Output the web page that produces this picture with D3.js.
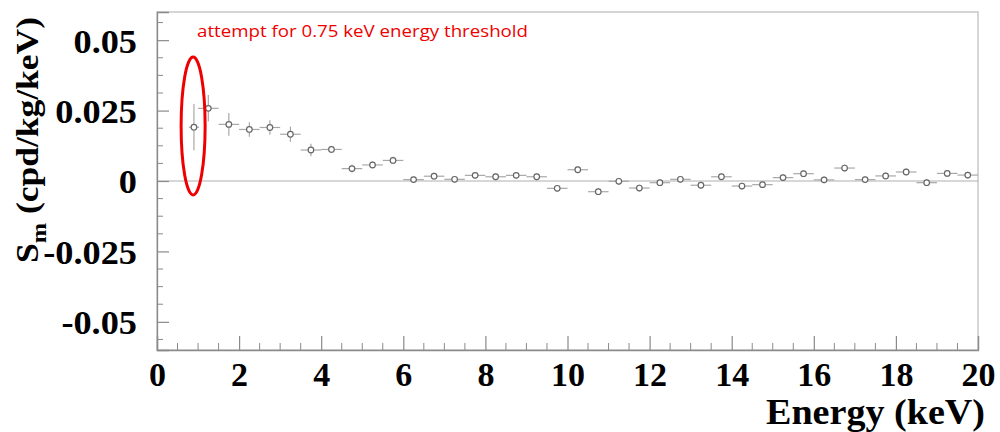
<!DOCTYPE html>
<html>
<head>
<meta charset="utf-8">
<script src="https://cdn.jsdelivr.net/npm/d3@7"></script>
<style>
  body { margin: 0; background: #fff; }
  svg { display: block; }
</style>
</head>
<body>
<svg id="chart" width="1000" height="432"></svg>
<script>
// data
var energy = [0.9, 1.25, 1.75, 2.25, 2.75, 3.25, 3.75, 4.25, 4.75, 5.25, 5.75,
    6.25, 6.75, 7.25, 7.75, 8.25, 8.75, 9.25, 9.75, 10.25, 10.75,
    11.25, 11.75, 12.25, 12.75, 13.25, 13.75, 14.25, 14.75, 15.25, 15.75,
    16.25, 16.75, 17.25, 17.75, 18.25, 18.75, 19.25, 19.75];
var binHalf = [0.125, 0.25, 0.25, 0.25, 0.25, 0.25, 0.25, 0.25, 0.25, 0.25, 0.25,
    0.25, 0.25, 0.25, 0.25, 0.25, 0.25, 0.25, 0.25, 0.25, 0.25,
    0.25, 0.25, 0.25, 0.25, 0.25, 0.25, 0.25, 0.25, 0.25, 0.25,
    0.25, 0.25, 0.25, 0.25, 0.25, 0.25, 0.25, 0.25];
var sm = [0.0191, 0.0258, 0.0201, 0.0183, 0.0190, 0.0166, 0.0110, 0.0112, 0.0044, 0.0057, 0.0073,
    0.0005, 0.0017, 0.0006, 0.0020, 0.0015, 0.0020, 0.0015, -0.0026, 0.0040, -0.0038,
    -0.0001, -0.0025, -0.0006, 0.0006, -0.0015, 0.0015, -0.0018, -0.0013, 0.0012, 0.0026,
    0.0004, 0.0046, 0.0005, 0.0018, 0.0032, -0.0006, 0.0027, 0.0021];
var smErr = [0.0082, 0.0047, 0.0040, 0.0026, 0.0026, 0.0027, 0.0022, 0.0013, 0.0014, 0.0013, 0.0013,
    0.0012, 0.0012, 0.0012, 0.0012, 0.0012, 0.0012, 0.0012, 0.0012, 0.0012, 0.0012,
    0.0012, 0.0012, 0.0012, 0.0012, 0.0012, 0.0012, 0.0012, 0.0012, 0.0012, 0.0012,
    0.0012, 0.0012, 0.0012, 0.0012, 0.0012, 0.0012, 0.0012, 0.0012];

var xTicks = [0, 2, 4, 6, 8, 10, 12, 14, 16, 18, 20];
var xMinor = [0.5, 1, 1.5, 2.5, 3, 3.5, 4.5, 5, 5.5, 6.5, 7, 7.5, 8.5, 9, 9.5,
    10.5, 11, 11.5, 12.5, 13, 13.5, 14.5, 15, 15.5, 16.5, 17, 17.5, 18.5, 19, 19.5];
var yTicks = [-0.05, -0.025, 0, 0.025, 0.05];
var yTickLabels = ["-0.05", "-0.025", "0", "0.025", "0.05"];
var yMinor = [-0.05625, -0.04375, -0.0375, -0.03125, -0.01875, -0.0125, -0.00625,
    0.00625, 0.0125, 0.01875, 0.03125, 0.0375, 0.04375, 0.05625];

var points = energy.map(function (e, i) {
    return { x: e, dx: binHalf[i], y: sm[i], dy: smErr[i] };
});

// MAIN
var plotLeft = 157, plotRight = 978, plotTop = 12, plotBottom = 350;
var svg = d3.select("#chart");

var x = d3.scaleLinear().domain([0, 20]).range([plotLeft, plotRight]);
var y = d3.scaleLinear().domain([-0.06, 0.06]).range([plotBottom, plotTop]);

var serif = "'Liberation Serif', 'Times New Roman', serif";

// frame
svg.append("rect")
    .attr("x", plotLeft).attr("y", plotTop)
    .attr("width", plotRight - plotLeft).attr("height", plotBottom - plotTop)
    .attr("fill", "none")
    .attr("stroke", "#c8c8c8")
    .attr("stroke-width", 1.5);

// zero line
svg.append("line")
    .attr("x1", plotLeft).attr("x2", plotRight)
    .attr("y1", y(0)).attr("y2", y(0))
    .attr("stroke", "#b0b0b0")
    .attr("stroke-width", 1.2);

// y axis, ticks inside the frame
var yAxis = svg.append("g")
    .attr("transform", "translate(" + plotLeft + ",0)")
    .call(d3.axisLeft(y).tickValues(yTicks).tickSize(-12).tickPadding(20)
        .tickFormat(function (d, i) { return yTickLabels[i]; }));
yAxis.select(".domain").attr("stroke", "#8a8a8a").attr("stroke-width", 1.3);
yAxis.selectAll(".tick line").attr("stroke", "#8a8a8a").attr("stroke-width", 1.2);
yAxis.selectAll(".tick text")
    .attr("font-family", serif).attr("font-weight", "bold")
    .attr("font-size", 33).attr("fill", "#000")
    .attr("dy", "0.36em")
    .attr("lengthAdjust", "spacingAndGlyphs")
    .attr("textLength", function () { return this.getComputedTextLength() * 1.1; });

svg.append("g").selectAll("line")
    .data(yMinor).enter().append("line")
    .attr("x1", plotLeft).attr("x2", plotLeft + 6)
    .attr("y1", function (d) { return y(d); })
    .attr("y2", function (d) { return y(d); })
    .attr("stroke", "#8a8a8a").attr("stroke-width", 1);

// x axis
var xAxis = svg.append("g")
    .attr("transform", "translate(0," + plotBottom + ")")
    .call(d3.axisBottom(x).tickValues(xTicks).tickSize(-14).tickPadding(12)
        .tickFormat(d3.format("d")));
xAxis.select(".domain").attr("stroke", "#8a8a8a").attr("stroke-width", 1.3);
xAxis.selectAll(".tick line").attr("stroke", "#8a8a8a").attr("stroke-width", 1.2);
xAxis.selectAll(".tick text")
    .attr("font-family", serif).attr("font-weight", "bold")
    .attr("font-size", 34).attr("fill", "#000")
    .attr("dy", "0.7em");

svg.append("g").selectAll("line")
    .data(xMinor).enter().append("line")
    .attr("x1", function (d) { return x(d); })
    .attr("x2", function (d) { return x(d); })
    .attr("y1", plotBottom).attr("y2", plotBottom - 7)
    .attr("stroke", "#8a8a8a").attr("stroke-width", 1);

// axis titles
svg.append("text")
    .attr("x", 985).attr("y", 424)
    .attr("text-anchor", "end")
    .attr("font-family", serif).attr("font-weight", "bold")
    .attr("font-size", 36)
    .attr("textLength", 219)
    .attr("lengthAdjust", "spacingAndGlyphs")
    .text("Energy (keV)");

var yTitle = svg.append("text")
    .attr("transform", "translate(38,140) rotate(-90)")
    .attr("text-anchor", "middle")
    .attr("font-family", serif).attr("font-weight", "bold")
    .attr("font-size", 32)
    .attr("textLength", 246)
    .attr("lengthAdjust", "spacingAndGlyphs");
yTitle.append("tspan").text("S");
yTitle.append("tspan").attr("font-size", 22).attr("dy", 8).text("m");
yTitle.append("tspan").attr("dy", -8).text(" (cpd/kg/keV)");

// error bars
var bars = svg.append("g").attr("stroke", "#a8a8a8").attr("stroke-width", 1.2);
bars.selectAll(".hbar")
    .data(points).enter().append("line")
    .attr("class", "hbar")
    .attr("x1", function (d) { return x(d.x - d.dx); })
    .attr("x2", function (d) { return x(d.x + d.dx); })
    .attr("y1", function (d) { return y(d.y); })
    .attr("y2", function (d) { return y(d.y); });
bars.selectAll(".vbar")
    .data(points).enter().append("line")
    .attr("class", "vbar")
    .attr("x1", function (d) { return x(d.x); })
    .attr("x2", function (d) { return x(d.x); })
    .attr("y1", function (d) { return y(d.y - d.dy); })
    .attr("y2", function (d) { return y(d.y + d.dy); });

// markers
svg.append("g").selectAll("circle")
    .data(points).enter().append("circle")
    .attr("cx", function (d) { return x(d.x); })
    .attr("cy", function (d) { return y(d.y); })
    .attr("r", 2.8)
    .attr("fill", "#fff")
    .attr("stroke", "#666")
    .attr("stroke-width", 1.2);

// annotation
svg.append("ellipse")
    .attr("cx", x(0.88)).attr("cy", 126)
    .attr("rx", 12).attr("ry", 69)
    .attr("fill", "none")
    .attr("stroke", "#ee0000")
    .attr("stroke-width", 3);

svg.append("text")
    .attr("x", 197).attr("y", 37)
    .attr("font-family", "'Open Sans', sans-serif")
    .attr("font-size", 17)
    .attr("fill", "#ee0000")
    .attr("textLength", 331)
    .attr("lengthAdjust", "spacingAndGlyphs")
    .text("attempt for 0.75 keV energy threshold");
</script>
</body>
</html>
